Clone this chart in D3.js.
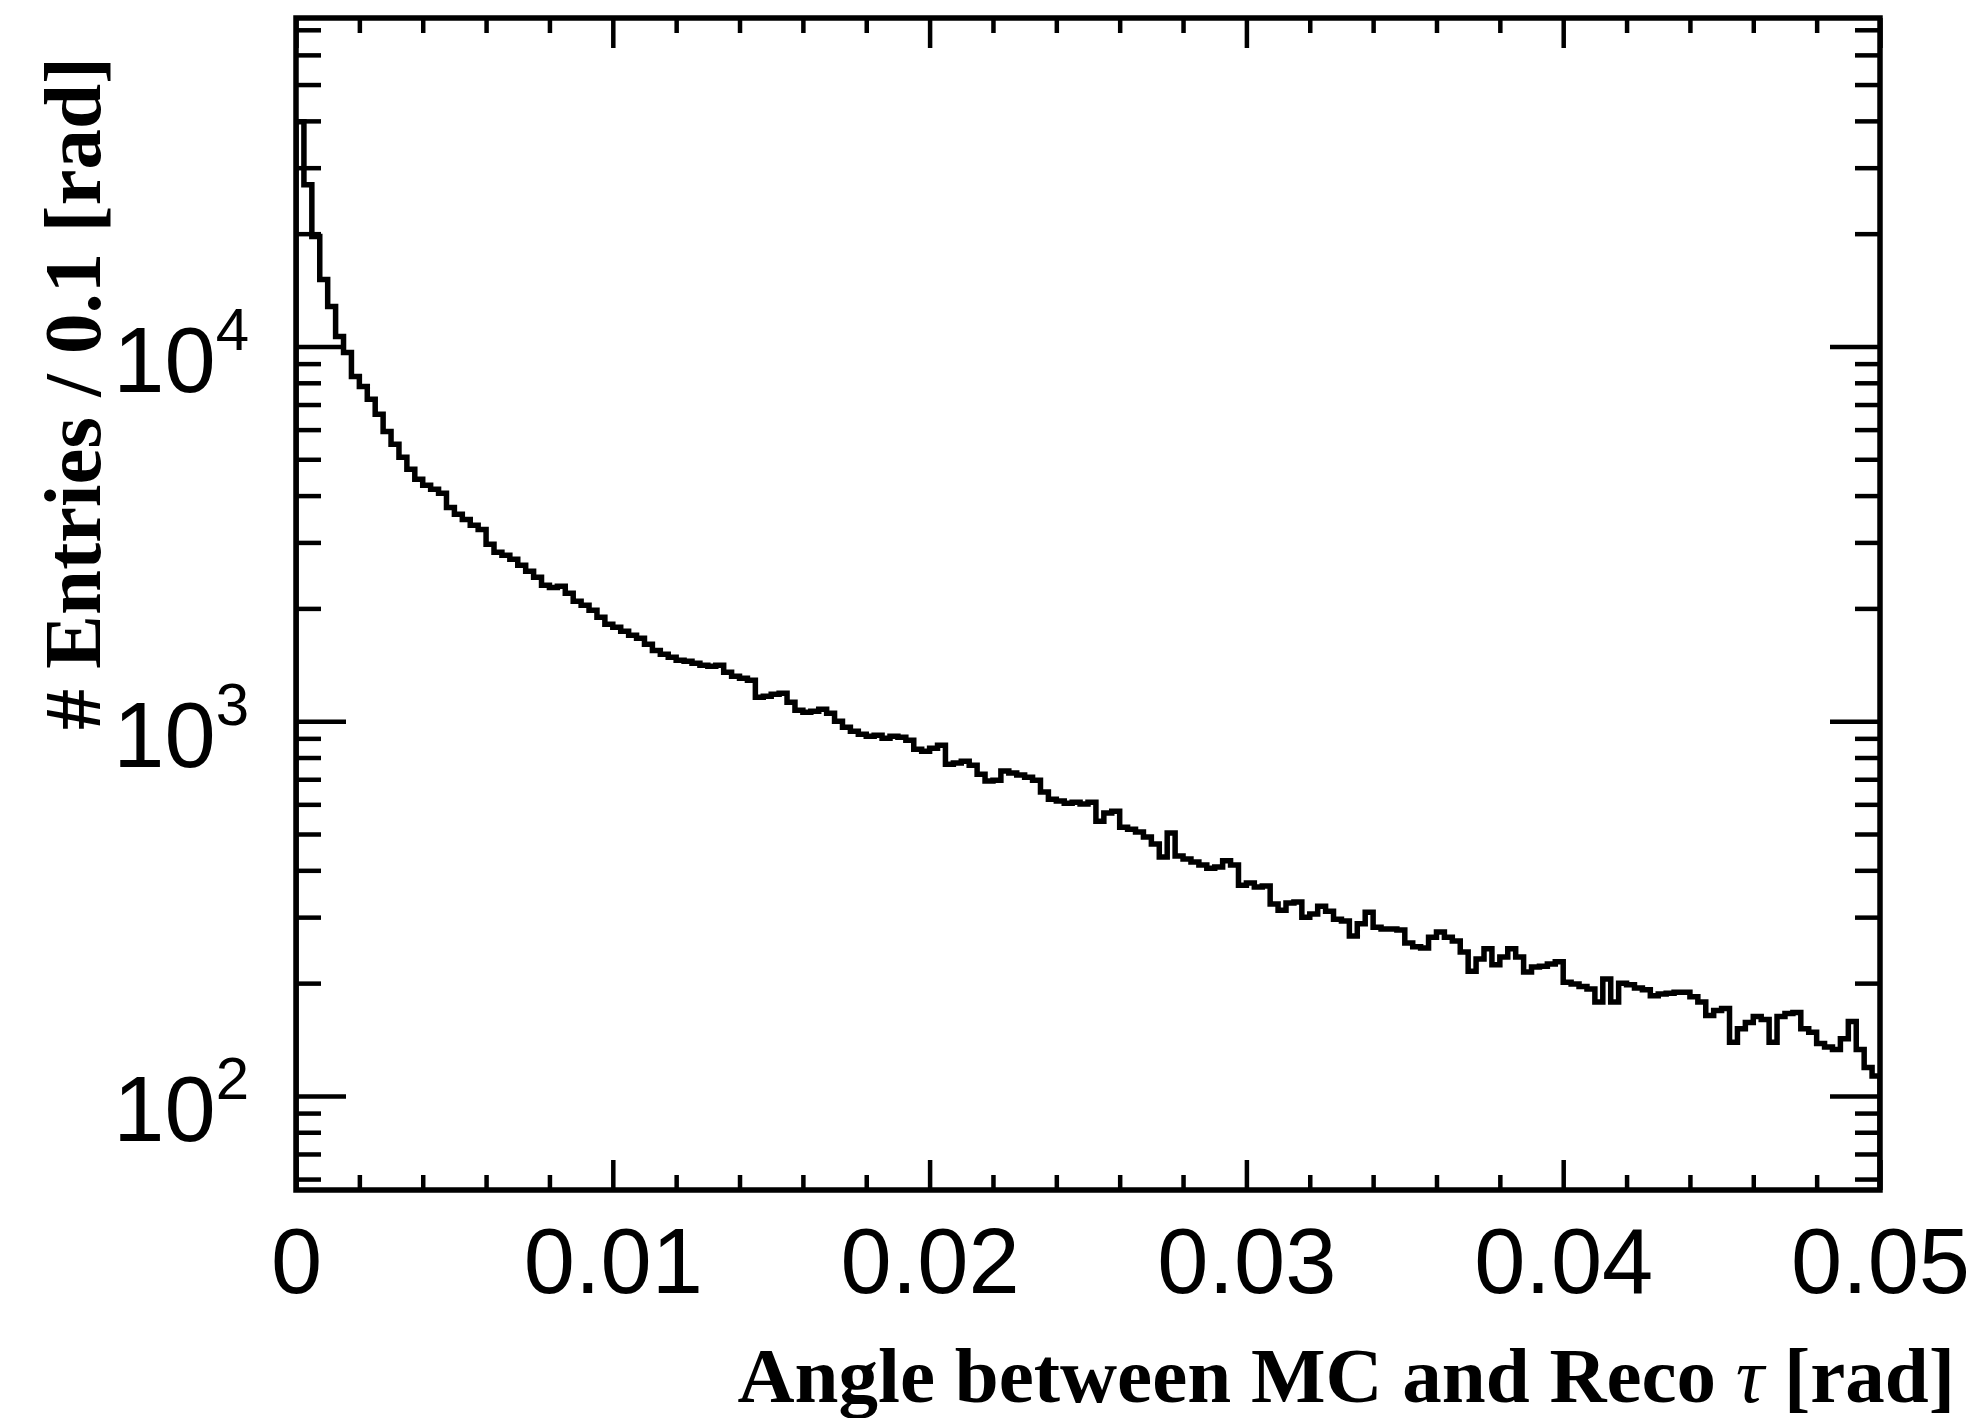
<!DOCTYPE html>
<html>
<head>
<meta charset="utf-8">
<script src="https://cdn.jsdelivr.net/npm/d3@7"></script>
<style>
  body { margin: 0; background: #fff; }
  svg { display: block; }
</style>
</head>
<body>
<div id="chart"></div>
<script>
// histogram: 200 bins between 0 and 0.05 rad
const binLow = 0
const binHigh = 0.05
const entries = [
  39800, 27000, 19650, 15100, 12790, 10630, 9640, 8320, 7820, 7230,
  6590, 5930, 5480, 5060, 4700, 4420, 4260, 4160, 4055, 3720,
  3565, 3456, 3333, 3250, 2965, 2825, 2773, 2704, 2606, 2512,
  2421, 2306, 2275, 2291, 2195, 2089, 2038, 1977, 1893, 1814,
  1782, 1738, 1695, 1664, 1604, 1545, 1510, 1482, 1455, 1445,
  1428, 1410, 1402, 1410, 1351, 1318, 1302, 1286, 1159, 1166,
  1180, 1188, 1124, 1070, 1057, 1063, 1077, 1050, 1000, 964,
  940, 923, 912, 918, 901, 912, 906, 890, 842, 832,
  847, 863, 768, 773, 782, 763, 722, 692, 696, 736,
  727, 718, 709, 696, 647, 619, 612, 604, 608, 601,
  608, 541, 569, 575, 521, 515, 506, 491, 470, 434,
  503, 437, 429, 421, 413, 405, 408, 424, 413, 365,
  370, 361, 363, 325, 313, 327, 329, 300, 306, 321,
  311, 296, 293, 267, 288, 309, 282, 279, 279, 277,
  256, 250, 248, 265, 274, 265, 259, 242, 215, 232,
  247, 224, 235, 247, 235, 214, 221, 222, 225, 228,
  201, 199, 196, 193, 178, 205, 178, 200, 198, 194,
  192, 185, 187, 188, 189, 189, 184, 178, 164, 169,
  171, 139, 151, 157, 163, 160, 139, 163, 166, 167,
  151, 148, 138, 135, 133, 142, 158, 133, 119, 113
]

const xMajorTicks = [0, 0.01, 0.02, 0.03, 0.04, 0.05]
const xTickLabels = ['0', '0.01', '0.02', '0.03', '0.04', '0.05']
const yMajorTicks = [100, 1000, 10000]
const yTickExponents = ['2', '3', '4']
const yRange = [56.1, 75260]

const margin = { top: 18, left: 296, right: 104, bottom: 228 }
const width = 1984 - margin.left - margin.right
const height = 1418 - margin.top - margin.bottom

const svg = d3
  .select('#chart')
  .append('svg')
  .attr('width', width + margin.left + margin.right)
  .attr('height', height + margin.top + margin.bottom)

const plot = svg
  .append('g')
  .attr('transform', 'translate(' + margin.left + ',' + margin.top + ')')

const xPositionScale = d3.scaleLinear().domain([binLow, binHigh]).range([0, width])
const yPositionScale = d3.scaleLog().domain(yRange).range([height, 0])

// minor ticks
const xMinorTicks = d3.range(0, 26).map(i => i * 0.002).filter(d => Math.round(d * 1000) % 10 !== 0)
const yMinorTicks = []
;[10, 100, 1000, 10000].forEach(base => {
  for (let m = 2; m <= 9; m++) {
    const v = base * m
    if (v > yRange[0] && v < yRange[1]) yMinorTicks.push(v)
  }
})

plot
  .append('clipPath')
  .attr('id', 'frame-clip')
  .append('rect')
  .attr('width', width)
  .attr('height', height)

// histogram outline
const binWidth = (binHigh - binLow) / entries.length
const stepPoints = [[binLow, yRange[0]]]
entries.forEach((v, i) => stepPoints.push([binLow + i * binWidth, v]))
stepPoints.push([binHigh, entries[entries.length - 1]])
stepPoints.push([binHigh, yRange[0]])

const line = d3
  .line()
  .x(d => xPositionScale(d[0]))
  .y(d => yPositionScale(d[1]))
  .curve(d3.curveStepAfter)

plot
  .append('path')
  .datum(stepPoints)
  .attr('clip-path', 'url(#frame-clip)')
  .attr('d', line)
  .attr('fill', 'none')
  .attr('stroke', '#000')
  .attr('stroke-width', 5.5)

function drawAxis(axis, x, y) {
  const g = plot
    .append('g')
    .attr('transform', 'translate(' + x + ',' + y + ')')
    .call(axis)
  g.select('.domain').remove()
  g.selectAll('line').attr('stroke', '#000').attr('stroke-width', 4.5)
  return g
}

// x axis, bottom with labels, top mirrored
const xBottom = drawAxis(
  d3.axisBottom(xPositionScale).tickValues(xMajorTicks).tickSize(-30)
    .tickFormat((d, i) => xTickLabels[i]),
  0, height
)
xBottom
  .selectAll('text')
  .attr('y', 103)
  .attr('dy', 0)
  .attr('fill', '#000')
  .style('font-family', "'Liberation Sans', Arial, Helvetica, sans-serif")
  .style('font-size', '92px')
drawAxis(d3.axisBottom(xPositionScale).tickValues(xMinorTicks).tickSize(-15).tickFormat(''), 0, height)
drawAxis(d3.axisTop(xPositionScale).tickValues(xMajorTicks).tickSize(-30).tickFormat(''), 0, 0)
drawAxis(d3.axisTop(xPositionScale).tickValues(xMinorTicks).tickSize(-15).tickFormat(''), 0, 0)

// y axis, left with labels, right mirrored
const yLeft = drawAxis(
  d3.axisLeft(yPositionScale).tickValues(yMajorTicks).tickSize(-50).tickPadding(47)
    .tickFormat(''),
  0, 0
)
yLeft
  .selectAll('text')
  .attr('y', 45)
  .attr('dy', 0)
  .attr('fill', '#000')
  .style('font-family', "'Liberation Sans', Arial, Helvetica, sans-serif")
  .style('font-size', '92px')
  .each(function(d, i) {
    const t = d3.select(this)
    t.append('tspan').text('10')
    t.append('tspan').attr('dy', -42).style('font-size', '60px').text(yTickExponents[i])
  })
drawAxis(d3.axisLeft(yPositionScale).tickValues(yMinorTicks).tickSize(-25).tickFormat(''), 0, 0)
drawAxis(d3.axisRight(yPositionScale).tickValues(yMajorTicks).tickSize(-50).tickFormat(''), width, 0)
drawAxis(d3.axisRight(yPositionScale).tickValues(yMinorTicks).tickSize(-25).tickFormat(''), width, 0)

// frame
plot
  .append('rect')
  .attr('width', width)
  .attr('height', height)
  .attr('fill', 'none')
  .attr('stroke', '#000')
  .attr('stroke-width', 5.5)

// axis titles
const xTitle = svg
  .append('text')
  .attr('x', 1955)
  .attr('y', 1402)
  .attr('text-anchor', 'end')
  .attr('font-family', "'Liberation Serif', 'Times New Roman', serif")
  .attr('font-weight', 'bold')
  .attr('font-size', 79)
  .attr('fill', '#000')
xTitle.append('tspan').text('Angle between MC and Reco ')
xTitle.append('tspan').attr('font-style', 'italic').attr('font-weight', 'normal').text('τ')
xTitle.append('tspan').text(' [rad]')

svg
  .append('text')
  .attr('transform', 'translate(100,57) rotate(-90)')
  .attr('text-anchor', 'end')
  .attr('font-family', "'Liberation Serif', 'Times New Roman', serif")
  .attr('font-weight', 'bold')
  .attr('font-size', 81)
  .attr('fill', '#000')
  .text('# Entries / 0.1 [rad]')
</script>
</body>
</html>
